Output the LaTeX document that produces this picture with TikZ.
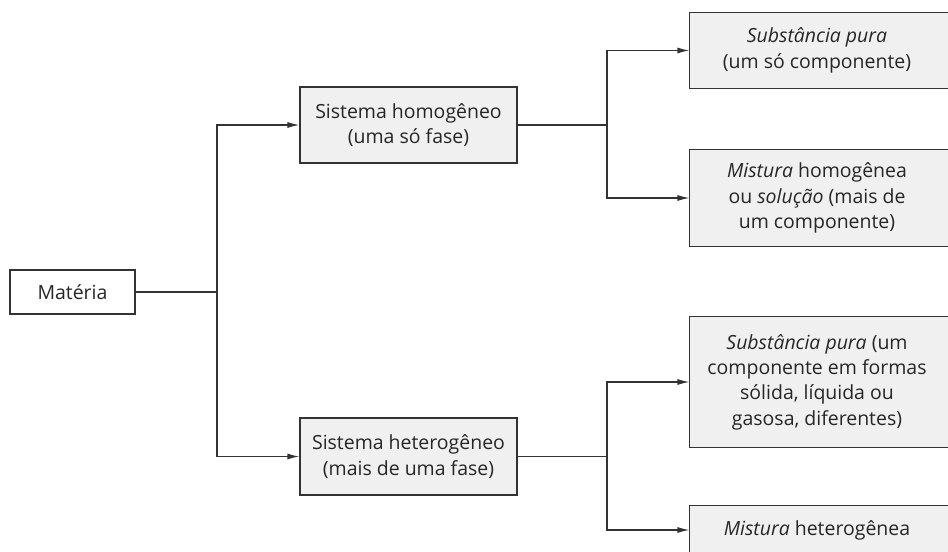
\documentclass[tikz,border=0pt]{standalone}
\usepackage{fontspec}
\setmainfont{Open Sans}
\usetikzlibrary{arrows.meta,backgrounds}
\begin{document}
\begin{tikzpicture}[x=0.75pt,y=-0.75pt,
        frame/.style={draw=black!80, line width=0.9pt, fill=black!6},
        box/.style={frame, text=black!85, align=center, inner sep=0pt, font=\fontsize{14.6}{19}\selectfont},
        cut/.style={box, draw=none, fill=none},
        link/.style={draw=black!80, line width=0.9pt},
        arr/.style={link, -{Latex[length=9pt,width=4.5pt]}}]
    \useasboundingbox (0,0) rectangle (948,552);
    \clip (0,0) rectangle (948,552);
    \node[box, fill=white, minimum width=93.75pt, minimum height=33pt] (mat) at (72.5,292) {Matéria};
    \node[box, minimum width=162.75pt, minimum height=57pt] (hom) at (408.5,125) {Sistema homogêneo\\(uma só fase)};
    \node[box, minimum width=162.75pt, minimum height=57.75pt] (het) at (408.5,456.5) {Sistema heterogêneo\\(mais de uma fase)};
    \node[cut, minimum width=190.5pt, minimum height=56.25pt] (sp1) at (817,50.5) {\textit{Substância pura}\\(um só componente)};
    \node[cut, minimum width=190.5pt, minimum height=72pt] (mh) at (817,198) {\textit{Mistura} homogênea\\ou \textit{solução} (mais de\\um componente)};
    \node[cut, minimum width=190.5pt, minimum height=97.5pt] (sp2) at (817,382) {\textit{Substância pura} (um\\componente em formas\\sólida, líquida ou\\gasosa, diferentes)};
    \node[cut, minimum width=190.5pt, minimum height=36pt] (mt) at (817,530) {\textit{Mistura} heterogênea};
    \coordinate (edge) at (970,0);
    \begin{scope}[on background layer]
        \foreach \n in {sp1,mh,sp2,mt}
            \draw[frame] (\n.north west) rectangle (\n.south east -| edge);
    \end{scope}
    \coordinate (j1) at (217,292);
    \coordinate (j2) at (607,125);
    \coordinate (j3) at (607,456.5);
    \draw[link] (mat.east) -- (j1);
    \draw[arr] (j1) |- (hom.west);
    \draw[arr] (j1) |- (het.west);
    \draw[link] (hom.east) -- (j2);
    \draw[arr] (j2) |- (sp1.west);
    \draw[arr] (j2) |- (mh.west);
    \draw[link] (het.east) -- (j3);
    \draw[arr] (j3) |- (sp2.west);
    \draw[arr] (j3) |- (mt.west);
\end{tikzpicture}
\end{document}
